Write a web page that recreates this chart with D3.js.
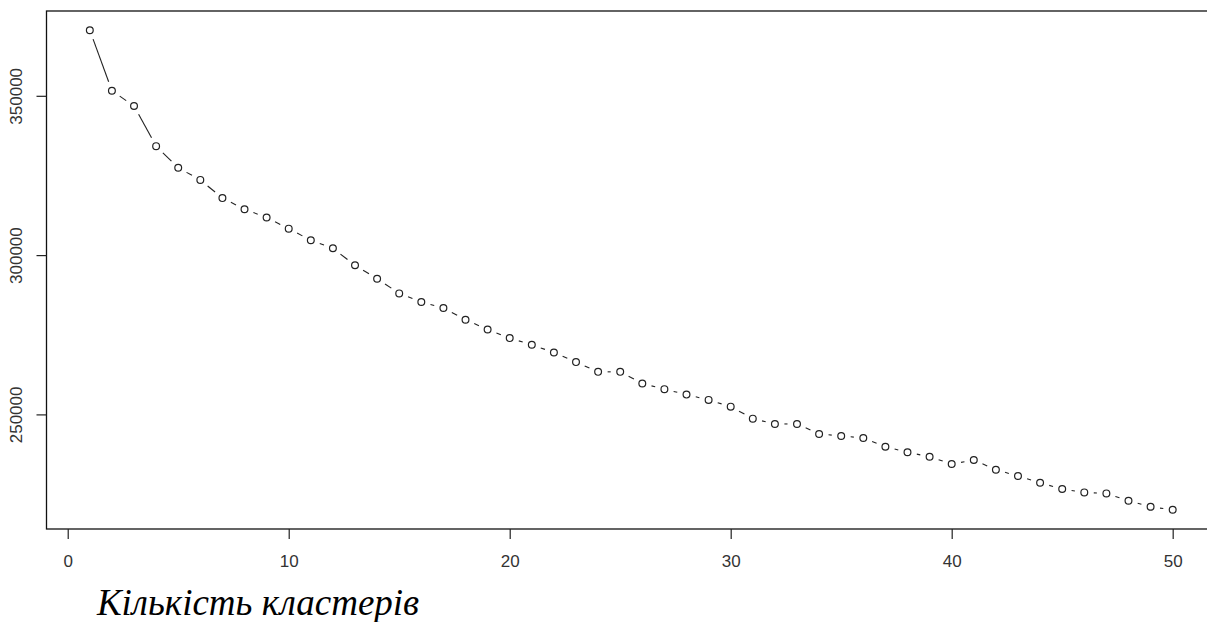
<!DOCTYPE html>
<html>
<head>
<meta charset="utf-8">
<script src="https://cdn.jsdelivr.net/npm/d3@7"></script>
<style>
  body { margin: 0; background: #fff; }
  svg { display: block; }
</style>
</head>
<body>
<script>
// Number of clusters and the total within-cluster sum of squares for each
var clusters = d3.range(1, 51);
var withinSS = [
    370600, 351600, 346800, 334200, 327400, 323600, 317900, 314400, 311800, 308300,
    304650, 302130, 296800, 292600, 287980, 285280, 283390, 279710, 276660, 273950,
    271850, 269430, 266410, 263360, 263360, 259680, 257920, 256220, 254550, 252440,
    248670, 247000, 247000, 243860, 243230, 242600, 239860, 238100, 236720, 234420,
    235680, 232630, 230650, 228540, 226560, 225520, 225200, 222880, 220990, 220050
];
var xTicks = [0, 10, 20, 30, 40, 50];
var yTicks = [250000, 300000, 350000];
var xLabel = "Кількість кластерів";

var data = clusters.map(function (k, i) { return { k: k, v: withinSS[i] }; });

var W = 1207, H = 622;
var box = { left: 46.5, top: 11, right: 1216, bottom: 529 };

var svg = d3.select("body").append("svg")
    .attr("width", W)
    .attr("height", H);

// R style axis ranges: data range extended by 4% at both ends
var xMin = d3.min(clusters), xMax = d3.max(clusters);
var xPad = (xMax - xMin) * 0.04;
var yMin = d3.min(withinSS), yMax = d3.max(withinSS);
var yPad = (yMax - yMin) * 0.04;

var xScale = d3.scaleLinear()
    .domain([xMin - xPad, xMax + xPad])
    .range([box.left, box.right]);
var yScale = d3.scaleLinear()
    .domain([yMin - yPad, yMax + yPad])
    .range([box.bottom, box.top]);

// Plot frame
svg.append("rect")
    .attr("x", box.left)
    .attr("y", box.top)
    .attr("width", box.right - box.left)
    .attr("height", box.bottom - box.top)
    .attr("fill", "none")
    .attr("stroke", "#111")
    .attr("stroke-width", 1.3);

// X axis (ticks below the frame)
var xAxis = svg.append("g")
    .attr("transform", "translate(0," + box.bottom + ")")
    .call(d3.axisBottom(xScale).tickValues(xTicks).tickSize(10).tickPadding(16).tickFormat(d3.format("d")));

// Y axis (labels turned vertical, as in R)
var yAxis = svg.append("g")
    .attr("transform", "translate(" + box.left + ",0)")
    .call(d3.axisLeft(yScale).tickValues(yTicks).tickSize(10).tickFormat(d3.format("d")));

[xAxis, yAxis].forEach(function (ax) {
    ax.select(".domain").remove();
    ax.selectAll(".tick line").attr("stroke", "#222").attr("stroke-width", 1.2);
    ax.selectAll(".tick text")
        .attr("fill", "#333")
        .style("font-family", "'Liberation Sans', Arial, sans-serif")
        .style("font-size", "17px");
});

yAxis.selectAll(".tick text")
    .attr("x", null)
    .attr("dy", null)
    .attr("text-anchor", "middle")
    .attr("transform", "translate(-30,0) rotate(-90)")
    .attr("dominant-baseline", "central");

// Lines between points with a gap around each point (type = "b")
var gap = 9.5;
var segs = [];
for (var i = 0; i < data.length - 1; i++) {
    var x1 = xScale(data[i].k), y1 = yScale(data[i].v);
    var x2 = xScale(data[i + 1].k), y2 = yScale(data[i + 1].v);
    var len = Math.hypot(x2 - x1, y2 - y1);
    if (len > 2 * gap) {
        var ux = (x2 - x1) / len, uy = (y2 - y1) / len;
        segs.push([x1 + ux * gap, y1 + uy * gap, x2 - ux * gap, y2 - uy * gap]);
    }
}

svg.append("g").selectAll("line")
    .data(segs)
    .enter().append("line")
    .attr("x1", function (d) { return d[0]; })
    .attr("y1", function (d) { return d[1]; })
    .attr("x2", function (d) { return d[2]; })
    .attr("y2", function (d) { return d[3]; })
    .attr("stroke", "#222")
    .attr("stroke-width", 1.1);

// Open circles
svg.append("g").selectAll("circle")
    .data(data)
    .enter().append("circle")
    .attr("cx", function (d) { return xScale(d.k); })
    .attr("cy", function (d) { return yScale(d.v); })
    .attr("r", 3.4)
    .attr("fill", "#fff")
    .attr("stroke", "#222")
    .attr("stroke-width", 1.2);

// Axis title
svg.append("text")
    .attr("x", 97)
    .attr("y", 615)
    .style("font-family", "'Liberation Serif', 'Times New Roman', serif")
    .style("font-style", "italic")
    .style("font-size", "37px")
    .attr("fill", "#000")
    .text(xLabel);
</script>
</body>
</html>
